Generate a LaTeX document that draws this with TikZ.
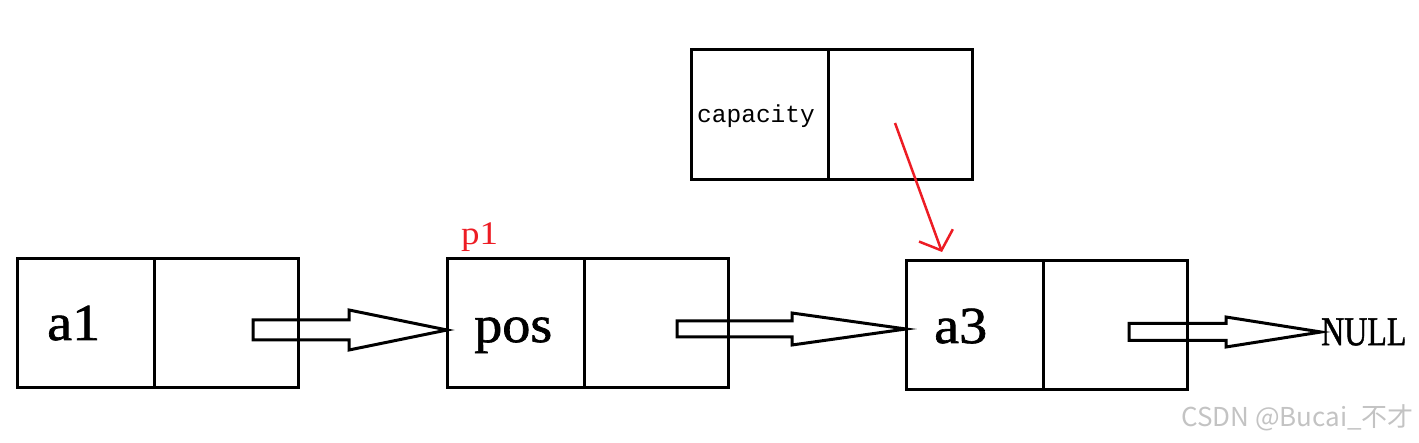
\documentclass[tikz,border=0pt]{standalone}
\usepackage{fontspec}
\setmainfont{Liberation Serif}
\newfontfamily\heavyserif[FakeBold=1.2]{Liberation Serif}
\newfontfamily\capmono{Liberation Mono}
\newfontfamily\cjkfont{Noto Sans CJK SC}
\usetikzlibrary{arrows.meta,calc}
\definecolor{paintred}{RGB}{237,28,36}
\definecolor{wmgray}{RGB}{195,195,195}
\newcommand\hollowarrow[5]{%
  \draw[hollow] ($(#1)+(0,-#3)$) -- ($(#2)+(-#4,-#3)$) -- ($(#2)+(-#4,-#5)$) -- (#2)
    -- ($(#2)+(-#4,#5)$) -- ($(#2)+(-#4,#3)$) -- ($(#1)+(0,#3)$) -- cycle;}
\begin{document}
\begin{tikzpicture}[x=1pt,y=-1pt,
  cell/.style={draw,line width=3pt,minimum height=129pt,inner sep=0pt,outer sep=0pt,anchor=north west},
  lcell/.style={cell,minimum width=137pt},
  rcell/.style={cell,minimum width=144pt},
  bigtxt/.style={anchor=base west,inner sep=0pt,xscale=1.08,font=\heavyserif\fontsize{52}{52}\selectfont},
  hollow/.style={draw,line width=3pt,line join=miter},
  redarrow/.style={draw=paintred,line width=2.5pt,-{Straight Barb[length=16pt,width=36pt,line width=2.5pt]}}]
\useasboundingbox (0,0) rectangle (1419,443);
% boxes
\node[lcell] (a1L) at (17,259) {};
\node[rcell] (a1R) at (154,259) {};
\node[lcell] (posL) at (447,259) {};
\node[rcell] (posR) at (584,259) {};
\node[lcell] (a3L) at (906,261) {};
\node[rcell] (a3R) at (1043,261) {};
\node[lcell,minimum height=130pt] (capL) at (691,50) {};
\node[rcell,minimum height=130pt] (capR) at (828,50) {};
% texts
\node[bigtxt] (ta1) at (47,340) {a1};
\node[bigtxt] (tpos) at (474,342) {pos};
\node[bigtxt] (ta3) at (934,343) {a3};
\node[anchor=base west,inner sep=0pt,font=\capmono\fontsize{24.5}{24.5}\selectfont] (tcap) at (697,123) {capacity};
\node[anchor=base west,inner sep=0pt,text=paintred,font=\fontsize{33}{33}\selectfont,xscale=1.12] (tp1) at (461,245) {p1};
\node[anchor=west,inner sep=0pt,font=\heavyserif\fontsize{41}{41}\selectfont,xscale=0.78] (null) at (1321,332) {NULL};
% hollow arrows
\coordinate (s1) at (253,330);
\coordinate (t1) at (posL.west |- s1);
\hollowarrow{s1}{t1}{10}{98}{20}
\coordinate (s2) at (677,329);
\coordinate (t2) at (a3L.west |- s2);
\hollowarrow{s2}{t2}{8}{114}{16}
\coordinate (s3) at (1129,332);
\coordinate (t3) at (null.west |- s3);
\hollowarrow{s3}{t3}{8.5}{95}{15}
% red arrow
\coordinate (r0) at (895,123);
\coordinate (r1) at (942,252);
\draw[redarrow] (r0) -- (r1);
% watermark
\node[anchor=base west,inner sep=0pt,text=wmgray,font=\cjkfont\fontsize{26}{26}\selectfont] (wm) at (1181,426) {CSDN @Bucai\_不才};
\end{tikzpicture}
\end{document}
